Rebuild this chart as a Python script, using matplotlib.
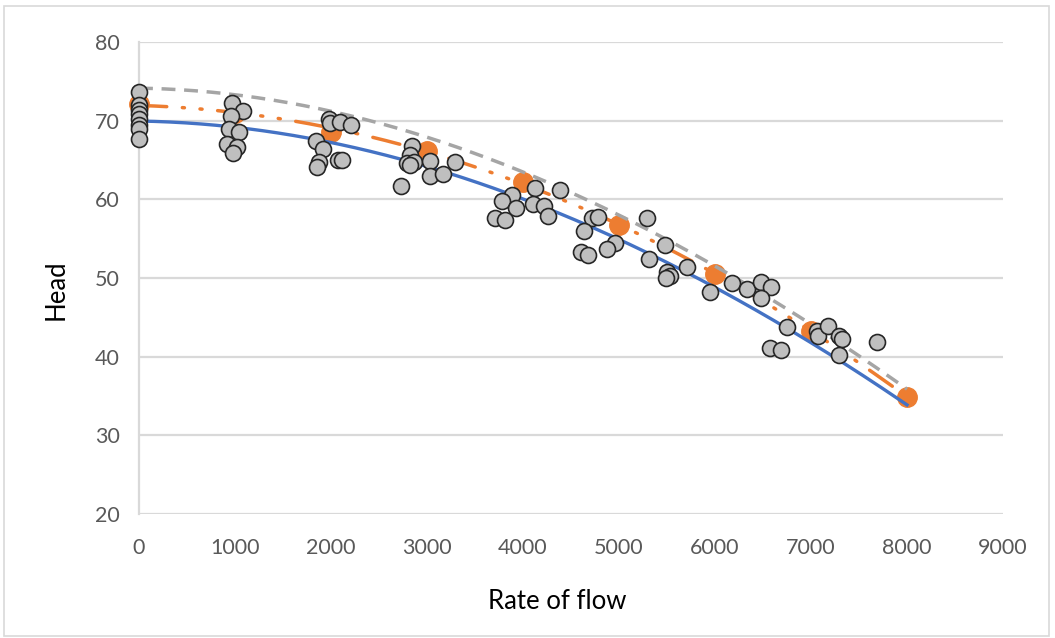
import numpy as np
import matplotlib
matplotlib.use("Agg")
import matplotlib.pyplot as plt
from matplotlib.patches import Rectangle

# ---- data ----
meas_q = [0, 0, 0, 0, 0, 0, 0, 0,
          973, 1088, 960, 942, 1046, 914, 1018, 984,
          1974, 1985, 2096, 2207, 1846, 1915, 1870, 1852, 2078, 2113,
          2843, 2818, 2791, 2860, 2825, 3027, 3295, 3034, 3167, 2729,
          4122, 4382, 3886, 3782, 3931, 4105, 4223, 4258, 3712, 3817,
          4720, 4779, 4633, 5287, 5474, 4963, 4870, 4599, 4675, 5311,
          5495, 5530, 5485, 5704,
          6180, 5947, 6330, 6475, 6580, 6475, 6747, 6573, 6684,
          7059, 7073, 7177, 7292, 7327, 7292, 7685]
meas_h = [73.6, 72.0, 71.4, 70.8, 70.2, 69.5, 68.9, 67.7,
          72.3, 71.2, 70.6, 69.0, 68.6, 67.0, 66.7, 65.9,
          70.2, 69.7, 69.8, 69.4, 67.4, 66.4, 64.7, 64.1, 65.0, 65.0,
          66.8, 65.6, 64.6, 64.7, 64.4, 64.9, 64.7, 63.0, 63.2, 61.7,
          61.5, 61.2, 60.5, 59.8, 58.9, 59.4, 59.2, 57.9, 57.6, 57.4,
          57.6, 57.8, 56.0, 57.6, 54.2, 54.4, 53.7, 53.3, 52.9, 52.4,
          50.7, 50.3, 50.0, 51.4,
          49.4, 48.2, 48.6, 49.5, 48.9, 47.5, 43.8, 41.1, 40.9,
          43.2, 42.6, 43.9, 42.6, 42.2, 40.2, 41.9]

rated_q = [0, 1000, 2000, 3000, 4000, 5000, 6000, 7000, 8000]
rated_h = [72.1, 71.0, 68.6, 66.2, 62.2, 56.8, 50.5, 43.2, 34.9]

curve_q = [0, 1000, 2000, 3000, 4000, 5000, 6000, 7000, 8000]
fit_h = [70.0, 69.2, 67.0, 64.1, 60.3, 55.1, 48.6, 41.6, 34.0]
upper_h = [74.1, 73.3, 71.3, 67.9, 63.3, 58.1, 51.4, 44.3, 35.8]

x_ticks = [0, 1000, 2000, 3000, 4000, 5000, 6000, 7000, 8000, 9000]
y_ticks = [20, 30, 40, 50, 60, 70, 80]

# ---- figure ----
W, H = 1055, 638
fig = plt.figure(figsize=(W / 100, H / 100), dpi=100)
L, R, T, B = 139, 1003, 42, 514
ax = fig.add_axes([L / W, 1 - B / H, (R - L) / W, (B - T) / H])

font = "Lato"
grid_c = "#D9D9D9"

qq = np.linspace(0, 8000, 300)
def smooth(q, h, deg=2):
    c = np.polyfit(q, h, deg)
    return np.polyval(c, qq)

ax.plot(rated_q, rated_h, "o", ms=14, color="#ED7D31", mec="#ED7D31",
        zorder=3, clip_on=False)
ax.plot(qq, smooth(curve_q, upper_h, 3), color="#A5A5A5", lw=2.5,
        dashes=(4, 2.5), zorder=4, clip_on=False)
ax.plot(qq, smooth(rated_q, rated_h, 2), color="#ED7D31", lw=2.5,
        dashes=(8, 4.5, 0.6, 4.5, 0.6, 4.5), dash_capstyle="round", zorder=4,
        clip_on=False)
ax.plot(qq, smooth(curve_q, fit_h, 3), color="#4472C4", lw=2.4, zorder=4,
        clip_on=False)
ax.plot(meas_q, meas_h, "o", ms=11.5, mfc="#BFBFBF", mec="#262626", mew=1.2,
        zorder=5, clip_on=False)

ax.set_xlim(0, 9000)
ax.set_ylim(20, 80)
ax.set_xticks(x_ticks)
ax.set_yticks(y_ticks)
ax.tick_params(length=0, labelsize=15.5, labelcolor="#595959")
ax.tick_params(axis="x", pad=17)
ax.tick_params(axis="y", pad=14)
for lab in ax.get_xticklabels() + ax.get_yticklabels():
    lab.set_fontfamily(font)
ax.grid(axis="y", color=grid_c, lw=1.6)
ax.set_axisbelow(True)
for s in ["top", "right", "bottom"]:
    ax.spines[s].set_visible(False)
ax.spines["left"].set_color(grid_c)
ax.spines["left"].set_linewidth(1.6)

ax.set_xlabel("Rate of flow", fontsize=18.5, fontfamily=font, color="black")
ax.set_ylabel("Head", fontsize=18.5, fontfamily=font, color="black")
ax.xaxis.set_label_coords(0.484, -0.158)
ax.yaxis.set_label_coords(-0.082, 0.475)

fig.patches.append(Rectangle((4 / W, 2 / H), (1049 - 4) / W, (632 - 2) / H,
                             transform=fig.transFigure, fill=False,
                             edgecolor="#D9D9D9", lw=1.2))

fig.savefig("out.png", dpi=100)
